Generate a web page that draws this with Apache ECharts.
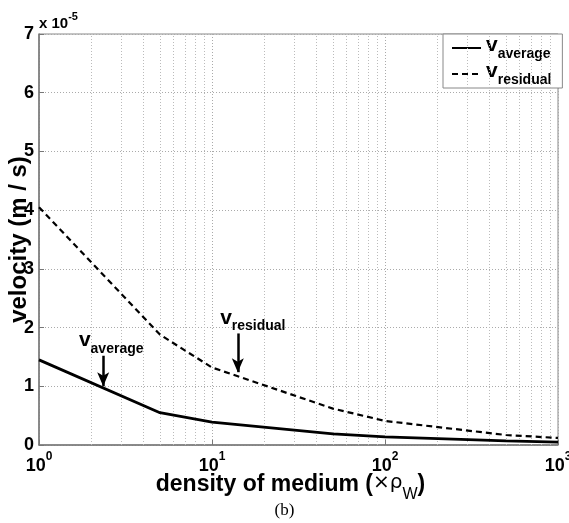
<!doctype html>
<html>
    <head>
        <meta charset="utf-8">
        <title>velocity vs density</title>
        <style>
            html, body { margin: 0; padding: 0; background: #fff; }
            #main { width: 569px; height: 523px; }
        </style>
    </head>
    <body>
        <div id="main"></div>
        <script src="https://cdn.jsdelivr.net/npm/echarts@6/dist/echarts.min.js"></script>
        <script>
            // density of medium (x rho_w), velocity in units of 1e-5 m/s
            var density = [1, 5, 10, 50, 100, 500, 1000];
            var vAverage = [1.45, 0.55, 0.39, 0.19, 0.14, 0.07, 0.05];
            var vResidual = [4.05, 1.88, 1.32, 0.62, 0.41, 0.17, 0.12];
            var minorGrid = [2, 3, 4, 5, 6, 7, 8, 9, 20, 30, 40, 50, 60, 70, 80, 90,
                200, 300, 400, 500, 600, 700, 800, 900];
            var supLabels = { 1: '0', 10: '1', 100: '2', 1000: '3' };
            // annotation arrows: [x, yFrom, yTo]
            var arrowAverage = [2.35, 1.52, 1.0];
            var arrowResidual = [14.1, 1.9, 1.24];

            var font = 'Liberation Sans, Arial, sans-serif';
            var chart = echarts.init(document.getElementById('main'));

            function pairs(xs, ys) {
                return xs.map(function (x, i) { return [x, ys[i]]; });
            }

            var subRich = {
                v: { fontFamily: font, fontWeight: 'bold', fontSize: 21, color: '#000', verticalAlign: 'top', lineHeight: 26 },
                s: { fontFamily: font, fontWeight: 'bold', fontSize: 14, color: '#000', verticalAlign: 'bottom', lineHeight: 26 }
            };

            function arrowLine(a, label, shift) {
                return {
                    silent: true,
                    symbol: ['none', 'arrow'],
                    symbolSize: [9, 14],
                    lineStyle: { color: '#000', width: 2.5, type: 'solid' },
                    label: {
                        show: true,
                        position: 'start',
                        distance: 0,
                        padding: [0, 0, 0, shift],
                        formatter: '{v|v}{s|' + label + '}',
                        rich: subRich
                    },
                    data: [[{ coord: [a[0], a[1]] }, { coord: [a[0], a[2]] }]]
                };
            }

            chart.setOption({
                animation: false,
                title: [{
                    text: '{a|x 10}{b|-5}',
                    left: 39,
                    top: 11,
                    padding: 0,
                    textStyle: {
                        rich: {
                            a: { fontFamily: font, fontSize: 15, color: '#000', verticalAlign: 'bottom', lineHeight: 20 },
                            b: { fontFamily: font, fontSize: 11, color: '#000', verticalAlign: 'top', lineHeight: 20 }
                        }
                    }
                }, {
                    text: '(b)',
                    left: 'center',
                    top: 502,
                    padding: 0,
                    textStyle: { fontFamily: 'Liberation Serif, Times New Roman, serif', fontWeight: 'normal', fontSize: 17, color: '#000' }
                }],
                legend: {
                    orient: 'vertical',
                    left: 443,
                    top: 34,
                    padding: [1, 11, 1, 8],
                    itemGap: 0,
                    itemWidth: 29,
                    itemHeight: 14,
                    backgroundColor: '#fff',
                    borderColor: '#888',
                    borderWidth: 1,
                    itemStyle: { opacity: 0 },
                    data: ['average', 'residual'],
                    formatter: function (name) {
                        return '{v|v}{s|' + name + '}';
                    },
                    textStyle: { rich: subRich }
                },
                grid: {
                    left: 39,
                    right: 11,
                    top: 34,
                    bottom: 78,
                    outerBoundsMode: 'none',
                    containLabel: false,
                    show: true,
                    borderColor: '#888',
                    borderWidth: 1
                },
                xAxis: {
                    type: 'log',
                    logBase: 10,
                    min: 1,
                    max: 1000,
                    name: '{a|density of medium (}{b|×ρ}{c|W}{a|)}',
                    nameLocation: 'middle',
                    nameGap: 28,
                    nameMoveOverlap: false,
                    nameTextStyle: {
                        padding: [0, 16, 0, 0],
                        rich: {
                            a: { fontFamily: font, fontWeight: 'bold', fontSize: 23, color: '#000', verticalAlign: 'top', lineHeight: 30 },
                            b: { fontFamily: 'DejaVu Sans, sans-serif', fontSize: 20, color: '#000', verticalAlign: 'top', lineHeight: 30 },
                            c: { fontFamily: font, fontSize: 16, color: '#000', verticalAlign: 'bottom', lineHeight: 30 }
                        }
                    },
                    axisLine: { lineStyle: { color: '#777', width: 1.5 } },
                    axisTick: { inside: true, length: 5, lineStyle: { color: '#777' } },
                    axisLabel: {
                        margin: 6,
                        formatter: function (v) {
                            return '{b|10}{s|' + supLabels[Math.round(v)] + '}';
                        },
                        rich: {
                            b: { fontFamily: font, fontWeight: 'bold', fontSize: 18, color: '#000', verticalAlign: 'bottom', lineHeight: 24 },
                            s: { fontFamily: font, fontWeight: 'bold', fontSize: 12, color: '#000', verticalAlign: 'top', lineHeight: 24 }
                        }
                    },
                    splitLine: { show: true, lineStyle: { color: '#aaa', type: [1, 2], width: 1 } }
                },
                yAxis: {
                    type: 'value',
                    min: 0,
                    max: 7,
                    interval: 1,
                    name: 'velocity (m / s)',
                    nameLocation: 'middle',
                    nameGap: 8,
                    nameMoveOverlap: false,
                    nameTextStyle: { fontFamily: font, fontWeight: 'bold', fontSize: 24, color: '#000' },
                    axisLine: { lineStyle: { color: '#777', width: 1.5 } },
                    axisTick: { inside: true, length: 5, lineStyle: { color: '#777' } },
                    axisLabel: { margin: 5, fontFamily: font, fontWeight: 'bold', fontSize: 18, color: '#000' },
                    splitLine: { show: true, lineStyle: { color: '#aaa', type: [1, 2], width: 1 } }
                },
                series: [{
                    name: 'average',
                    type: 'line',
                    symbol: 'none',
                    data: pairs(density, vAverage),
                    lineStyle: { color: '#000', width: 2.8, type: 'solid' },
                    itemStyle: { color: '#000' },
                    z: 5,
                    markLine: arrowLine(arrowAverage, 'average', 16)
                }, {
                    name: 'residual',
                    type: 'line',
                    symbol: 'none',
                    data: pairs(density, vResidual),
                    lineStyle: { color: '#000', width: 2.2, type: [6, 4] },
                    itemStyle: { color: '#000' },
                    z: 5,
                    markLine: arrowLine(arrowResidual, 'residual', 30)
                }, {
                    name: 'minor',
                    type: 'line',
                    data: [],
                    silent: true,
                    markLine: {
                        silent: true,
                        symbol: 'none',
                        label: { show: false },
                        lineStyle: { color: '#bbb', type: [1, 2], width: 1 },
                        data: minorGrid.map(function (x) { return { xAxis: x }; })
                    }
                }]
            });
            window.addEventListener('resize', function () {
                chart.resize();
            });
        </script>
    </body>
</html>
